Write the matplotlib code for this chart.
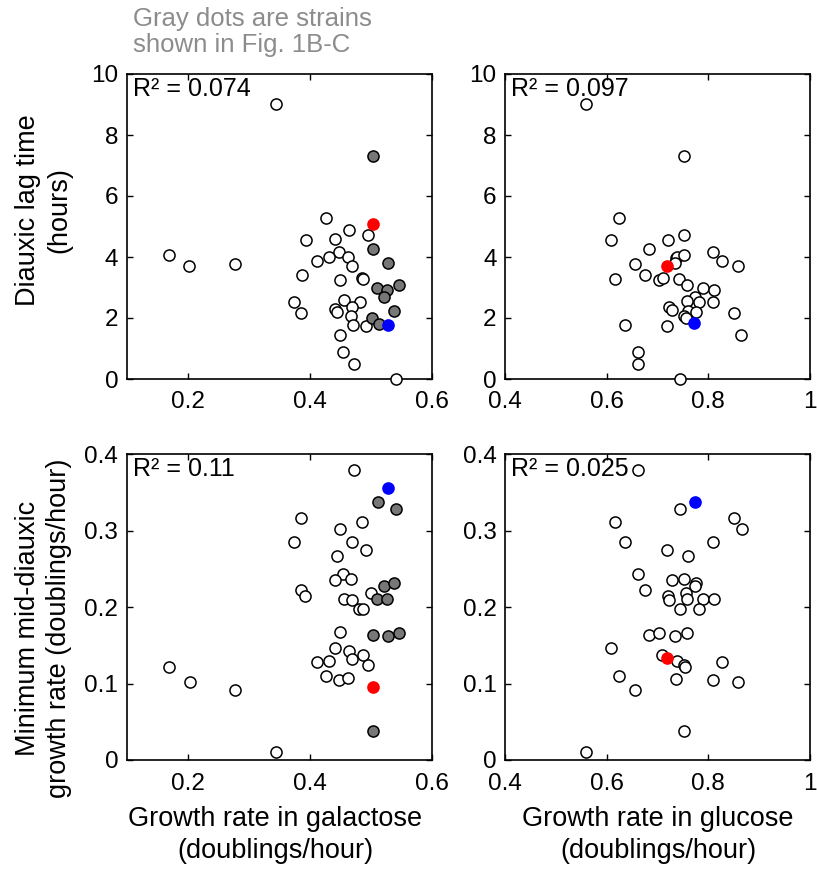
import matplotlib
matplotlib.use("Agg")
import matplotlib.pyplot as plt
from matplotlib.ticker import FuncFormatter

plt.rcParams['font.family'] = ['Liberation Sans', 'DejaVu Sans']

# --- data ---
# top-left: growth in galactose vs diauxic lag time
gal_open_x = [0.345, 0.169, 0.202, 0.278, 0.426, 0.465, 0.495, 0.394, 0.442, 0.448,
              0.432, 0.462, 0.412, 0.469, 0.387, 0.449, 0.485, 0.488, 0.375, 0.386,
              0.457, 0.482, 0.441, 0.445, 0.469, 0.467, 0.471, 0.493, 0.449, 0.455,
              0.473, 0.541]
gal_open_lag = [9.03, 4.08, 3.69, 3.78, 5.27, 4.90, 4.73, 4.57, 4.59, 4.16,
                3.99, 3.99, 3.88, 3.69, 3.40, 3.26, 3.30, 3.29, 2.51, 2.16,
                2.59, 2.54, 2.28, 2.21, 2.37, 2.08, 1.78, 1.75, 1.44, 0.87,
                0.50, 0.0]
gal_gray_x = [0.503, 0.503, 0.529, 0.547, 0.510, 0.526, 0.522, 0.539, 0.502, 0.513]
gal_gray_lag = [7.31, 4.26, 3.81, 3.09, 2.97, 2.92, 2.68, 2.22, 1.99, 1.81]
gal_red = (0.503, 5.08)
gal_blue = (0.529, 1.77)

# top-right: growth in glucose vs diauxic lag time
glu_open_x = [0.560, 0.752, 0.625, 0.609, 0.616, 0.636, 0.662, 0.662, 0.656, 0.684,
              0.676, 0.703, 0.711, 0.722, 0.737, 0.739, 0.735, 0.752, 0.752, 0.743,
              0.758, 0.790, 0.811, 0.774, 0.758, 0.782, 0.810, 0.723, 0.730, 0.761,
              0.777, 0.752, 0.756, 0.720, 0.744, 0.809, 0.828, 0.860, 0.851, 0.866]
glu_open_lag = [9.03, 7.31, 5.27, 4.57, 3.27, 1.78, 0.87, 0.50, 3.78, 4.26,
                3.40, 3.25, 3.31, 4.57, 3.97, 4.01, 3.81, 4.72, 4.08, 3.28,
                3.08, 2.97, 2.91, 2.69, 2.57, 2.51, 2.51, 2.37, 2.26, 2.24,
                2.21, 2.07, 1.99, 1.75, 0.0, 4.17, 3.87, 3.69, 2.16, 1.44]
glu_red = (0.720, 3.69)
glu_blue = (0.773, 1.83)

# bottom-left: growth in galactose vs min mid-diauxic growth rate
gal_open_x2 = [0.170, 0.203, 0.278, 0.345, 0.473, 0.385, 0.375, 0.449, 0.486, 0.470,
               0.493, 0.444, 0.386, 0.393, 0.455, 0.442, 0.467, 0.457, 0.469, 0.481,
               0.487, 0.501, 0.449, 0.442, 0.465, 0.469, 0.487, 0.412, 0.431, 0.496,
               0.426, 0.448, 0.462]
gal_open_min = [0.121, 0.1015, 0.092, 0.011, 0.379, 0.316, 0.285, 0.302, 0.311, 0.285,
                0.274, 0.267, 0.222, 0.215, 0.243, 0.235, 0.237, 0.211, 0.209, 0.197,
                0.198, 0.218, 0.167, 0.146, 0.142, 0.132, 0.137, 0.128, 0.129, 0.124,
                0.110, 0.105, 0.107]
gal_gray_x2 = [0.512, 0.541, 0.521, 0.539, 0.510, 0.526, 0.503, 0.528, 0.547, 0.503]
gal_gray_min = [0.337, 0.328, 0.228, 0.231, 0.211, 0.210, 0.164, 0.162, 0.166, 0.038]
gal_red2 = (0.504, 0.096)
gal_blue2 = (0.528, 0.356)

# bottom-right: growth in glucose vs min mid-diauxic growth rate
glu_open_x2 = [0.662, 0.745, 0.616, 0.851, 0.867, 0.636, 0.810, 0.720, 0.760, 0.663,
               0.676, 0.730, 0.753, 0.777, 0.775, 0.722, 0.723, 0.757, 0.758, 0.790,
               0.812, 0.744, 0.782, 0.684, 0.704, 0.734, 0.758, 0.609, 0.710, 0.739,
               0.752, 0.754, 0.828, 0.625, 0.656, 0.737, 0.809, 0.860, 0.752, 0.560]
glu_open_min = [0.379, 0.328, 0.311, 0.316, 0.302, 0.285, 0.285, 0.274, 0.267, 0.243,
                0.222, 0.235, 0.237, 0.231, 0.228, 0.215, 0.209, 0.218, 0.211, 0.211,
                0.210, 0.197, 0.197, 0.163, 0.166, 0.162, 0.166, 0.146, 0.137, 0.130,
                0.124, 0.121, 0.128, 0.110, 0.092, 0.106, 0.105, 0.1015, 0.038, 0.011]
glu_red2 = (0.720, 0.133)
glu_blue2 = (0.774, 0.337)

r2_labels = ["0.074", "0.097", "0.11", "0.025"]

W, H = 817, 869
fig = plt.figure(figsize=(W / 100, H / 100), dpi=100)

def add_ax(x0, y0, x1, y1):
    # pixel box -> figure fraction
    return fig.add_axes([x0 / W, 1 - y1 / H, (x1 - x0) / W, (y1 - y0) / H])

ax1 = add_ax(126.7, 74, 431.7, 379)
ax2 = add_ax(505, 74, 809.5, 379)
ax3 = add_ax(126.7, 454, 431.7, 760)
ax4 = add_ax(505, 454, 809.5, 760)

ms = 64
def open_pts(ax, x, y):
    ax.scatter(x, y, s=ms, facecolors='white', edgecolors='black', linewidths=1.1,
               zorder=3, clip_on=False)

def gray_pts(ax, x, y):
    ax.scatter(x, y, s=ms, facecolors='#777777', edgecolors='black', linewidths=1.1,
               zorder=3, clip_on=False)

def dot(ax, p, c):
    ax.scatter([p[0]], [p[1]], s=ms, facecolors=c, edgecolors=c, linewidths=1.1, zorder=4)

open_pts(ax1, gal_open_x, gal_open_lag)
gray_pts(ax1, gal_gray_x, gal_gray_lag)
dot(ax1, gal_red, 'red')
dot(ax1, gal_blue, 'blue')

open_pts(ax2, glu_open_x, glu_open_lag)
dot(ax2, glu_red, 'red')
dot(ax2, glu_blue, 'blue')

open_pts(ax3, gal_open_x2, gal_open_min)
gray_pts(ax3, gal_gray_x2, gal_gray_min)
dot(ax3, gal_red2, 'red')
dot(ax3, gal_blue2, 'blue')

open_pts(ax4, glu_open_x2, glu_open_min)
dot(ax4, glu_red2, 'red')
dot(ax4, glu_blue2, 'blue')

fmt = FuncFormatter(lambda v, p: ('%g' % round(v, 3)))
for ax, r2 in zip([ax1, ax2, ax3, ax4], r2_labels):
    ax.tick_params(direction='in', top=True, right=True, length=4, width=1,
                   labelsize=17.5)
    ax.tick_params(axis='x', pad=9)
    ax.tick_params(axis='y', pad=6)
    for s in ax.spines.values():
        s.set_linewidth(1.2)
    ax.xaxis.set_major_formatter(fmt)
    ax.yaxis.set_major_formatter(fmt)
    ax.text(0.02, 0.99, 'R\u00b2 = ' + r2, transform=ax.transAxes, fontsize=18,
            va='top', ha='left', zorder=2)

for ax in (ax1, ax3):
    ax.set_xlim(0.1, 0.6)
    ax.set_xticks([0.2, 0.4, 0.6])
for ax in (ax2, ax4):
    ax.set_xlim(0.4, 1.0)
    ax.set_xticks([0.4, 0.6, 0.8, 1.0])
for ax in (ax1, ax2):
    ax.set_ylim(0, 10)
    ax.set_yticks([0, 2, 4, 6, 8, 10])
for ax in (ax3, ax4):
    ax.set_ylim(0, 0.4)
    ax.set_yticks([0, 0.1, 0.2, 0.3, 0.4])

lab = dict(fontsize=19.5, ha='center', va='center', multialignment='center', linespacing=1.25)
fig.text(44 / W, 1 - 210 / H, 'Diauxic lag time\n(hours)', rotation=90, **lab)
fig.text(44 / W, 1 - 628 / H, 'Minimum mid-diauxic\ngrowth rate (doublings/hour)',
         rotation=90, **lab)
fig.text(275 / W, 1 - 835 / H, 'Growth rate in galactose\n(doublings/hour)', **lab)
fig.text(658 / W, 1 - 835 / H, 'Growth rate in glucose\n(doublings/hour)', **lab)

fig.text(133 / W, 1 - 7 / H, 'Gray dots are strains\nshown in Fig. 1B-C', color='#8c8c8c',
         fontsize=18.5, va='top', ha='left', linespacing=1.1)

fig.savefig('out.png', dpi=100)
